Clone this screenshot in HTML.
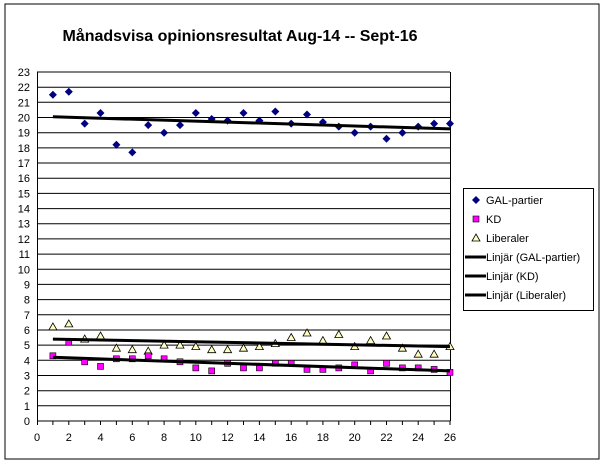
<!DOCTYPE html>
<html><head><meta charset="utf-8"><style>body{margin:0;background:#fff}svg{display:block}</style></head>
<body>
<svg width="607" height="465" xmlns="http://www.w3.org/2000/svg" font-family="Liberation Sans, Arial, sans-serif">
<defs>
<marker id="md" markerUnits="userSpaceOnUse" markerWidth="10" markerHeight="10" refX="5" refY="5" overflow="visible"><polygon points="5,1 9,5 5,9 1,5" fill="#000080"/></marker>
<marker id="mk" markerUnits="userSpaceOnUse" markerWidth="10" markerHeight="10" refX="5" refY="5" overflow="visible"><rect x="2" y="2" width="6" height="6" fill="#ff00ff" stroke="#000" stroke-width="0.6"/></marker>
<marker id="ml" markerUnits="userSpaceOnUse" markerWidth="10" markerHeight="10" refX="5" refY="5" overflow="visible"><polygon points="5,1 9,8 1,8" fill="#ffffc0" stroke="#000" stroke-width="0.8"/></marker>
</defs>
<rect x="5" y="4" width="594" height="455" fill="#fff" stroke="#000" stroke-width="1"/>
<text x="240" y="41" text-anchor="middle" font-size="16" font-weight="bold">Månadsvisa opinionsresultat   Aug-14 -- Sept-16</text>
<path stroke="#000" stroke-width="1" fill="none" d="M37 421H450M37 405.8H450M37 390.7H450M37 375.5H450M37 360.3H450M37 345.1H450M37 330H450M37 314.8H450M37 299.6H450M37 284.4H450M37 269.3H450M37 254.1H450M37 238.9H450M37 223.7H450M37 208.6H450M37 193.4H450M37 178.2H450M37 163H450M37 147.9H450M37 132.7H450M37 117.5H450M37 102.3H450M37 87.2H450M37 72H450M37.5 72V421M450.5 72V421"/>
<path stroke="#000" fill="none" d="M37.5 421v4M52.9 421v4M68.8 421v4M84.7 421v4M100.5 421v4M116.4 421v4M132.3 421v4M148.2 421v4M164.1 421v4M180 421v4M195.8 421v4M211.7 421v4M227.6 421v4M243.5 421v4M259.4 421v4M275.3 421v4M291.2 421v4M307 421v4M322.9 421v4M338.8 421v4M354.7 421v4M370.6 421v4M386.5 421v4M402.4 421v4M418.2 421v4M434.1 421v4M450 421v4"/>
<g font-size="11" text-anchor="end">
<text x="30" y="425">0</text><text x="30" y="409.8">1</text><text x="30" y="394.7">2</text><text x="30" y="379.5">3</text><text x="30" y="364.3">4</text><text x="30" y="349.1">5</text><text x="30" y="334">6</text><text x="30" y="318.8">7</text><text x="30" y="303.6">8</text><text x="30" y="288.4">9</text><text x="30" y="273.3">10</text><text x="30" y="258.1">11</text><text x="30" y="242.9">12</text><text x="30" y="227.7">13</text><text x="30" y="212.6">14</text><text x="30" y="197.4">15</text><text x="30" y="182.2">16</text><text x="30" y="167">17</text><text x="30" y="151.9">18</text><text x="30" y="136.7">19</text><text x="30" y="121.5">20</text><text x="30" y="106.3">21</text><text x="30" y="91.2">22</text><text x="30" y="76">23</text>
</g>
<g font-size="11" text-anchor="middle">
<text x="37" y="441">0</text><text x="68.8" y="441">2</text><text x="100.5" y="441">4</text><text x="132.3" y="441">6</text><text x="164.1" y="441">8</text><text x="195.8" y="441">10</text><text x="227.6" y="441">12</text><text x="259.4" y="441">14</text><text x="291.2" y="441">16</text><text x="322.9" y="441">18</text><text x="354.7" y="441">20</text><text x="386.5" y="441">22</text><text x="418.2" y="441">24</text><text x="450" y="441">26</text>
</g>
<polyline fill="none" stroke="none" marker-start="url(#ml)" marker-mid="url(#ml)" marker-end="url(#ml)" points="52.9,326.9 68.8,323.9 84.7,339.1 100.5,336 116.4,348.2 132.3,349.7 148.2,351.2 164.1,345.1 180,345.1 195.8,346.6 211.7,349.7 227.6,349.7 243.5,348.2 259.4,346.6 275.3,343.6 291.2,337.5 307,333 322.9,340.6 338.8,334.5 354.7,346.6 370.6,340.6 386.5,336 402.4,348.2 418.2,354.2 434.1,354.2 450,346.6"/>
<polyline fill="none" stroke="none" marker-start="url(#mk)" marker-mid="url(#mk)" marker-end="url(#mk)" points="52.9,355.8 68.8,342.1 84.7,361.8 100.5,366.4 116.4,358.8 132.3,358.8 148.2,355.8 164.1,358.8 180,361.8 195.8,367.9 211.7,370.9 227.6,363.3 243.5,367.9 259.4,367.9 275.3,363.3 291.2,363.3 307,369.4 322.9,369.4 338.8,367.9 354.7,364.9 370.6,370.9 386.5,363.3 402.4,367.9 418.2,367.9 434.1,369.4 450,372.4"/>
<polyline fill="none" stroke="none" marker-start="url(#md)" marker-mid="url(#md)" marker-end="url(#md)" points="52.9,94.8 68.8,91.7 84.7,123.6 100.5,113 116.4,144.8 132.3,152.4 148.2,125.1 164.1,132.7 180,125.1 195.8,113 211.7,119 227.6,120.6 243.5,113 259.4,120.6 275.3,111.5 291.2,123.6 307,114.5 322.9,122.1 338.8,126.6 354.7,132.7 370.6,126.6 386.5,138.8 402.4,132.7 418.2,126.6 434.1,123.6 450,123.6"/>
<line x1="52.9" y1="116.8" x2="450" y2="128.9" stroke="#000" stroke-width="3"/>
<line x1="52.9" y1="357.3" x2="450" y2="370.9" stroke="#000" stroke-width="3"/>
<line x1="52.9" y1="339.1" x2="450" y2="346.6" stroke="#000" stroke-width="3"/>
<rect x="463.5" y="188.5" width="130" height="122" fill="#fff" stroke="#000"/>
<g font-size="11">
<polygon points="476,196 480,200 476,204 472,200" fill="#000080"/><text x="486" y="204">GAL-partier</text>
<rect x="473" y="216" width="6" height="6" fill="#ff00ff" stroke="#000" stroke-width="0.6"/><text x="486" y="223">KD</text>
<polygon points="476,234 480,241 472,241" fill="#ffffc0" stroke="#000" stroke-width="0.8"/><text x="486" y="242">Liberaler</text>
<line x1="465" y1="257" x2="486" y2="257" stroke="#000" stroke-width="3"/><text x="486" y="261">Linjär (GAL-partier)</text>
<line x1="465" y1="276" x2="486" y2="276" stroke="#000" stroke-width="3"/><text x="486" y="280">Linjär (KD)</text>
<line x1="465" y1="295" x2="486" y2="295" stroke="#000" stroke-width="3"/><text x="486" y="299">Linjär (Liberaler)</text>
</g>
</svg>
</body></html>
